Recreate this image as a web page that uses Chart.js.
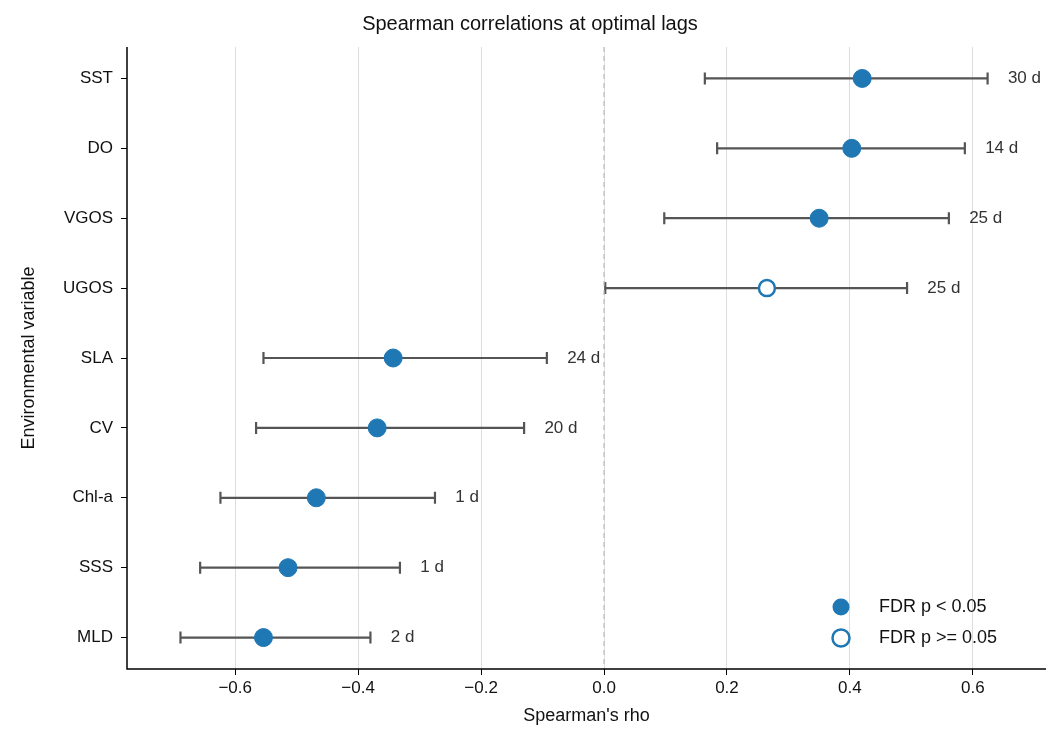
<!DOCTYPE html>
<html>
<head>
<meta charset="utf-8">
<script src="https://cdn.jsdelivr.net/npm/chart.js@4.4.1/dist/chart.umd.min.js"></script>
<style>
  html, body { margin: 0; padding: 0; background: #fff; }
  #wrap { width: 1061px; height: 745px; }
</style>
</head>
<body>
<div id="wrap"><canvas id="chart"></canvas></div>
<script>
// ── Data ────────────────────────────────────────────────────────────
const VARIABLES = ['SST', 'DO', 'VGOS', 'UGOS', 'SLA', 'CV', 'Chl-a', 'SSS', 'MLD'];
const RHO       = [0.420, 0.403, 0.350, 0.265, -0.343, -0.369, -0.468, -0.514, -0.554];
const CI_LOW    = [0.164, 0.184, 0.098, 0.002, -0.554, -0.566, -0.624, -0.657, -0.689];
const CI_HIGH   = [0.624, 0.587, 0.561, 0.493, -0.093, -0.130, -0.275, -0.332, -0.380];
const LAGS      = ['30 d', '14 d', '25 d', '25 d', '24 d', '20 d', '1 d', '1 d', '2 d'];
const SIGNIF    = [true, true, true, false, true, true, true, true, true];
const X_TICKS   = [-0.6, -0.4, -0.2, 0.0, 0.2, 0.4, 0.6];

const BLUE = '#1f77b4';
const FONT = 'Liberation Sans, Arial, sans-serif';

const sigPoints = [], nsPoints = [];
VARIABLES.forEach((v, i) => {
  (SIGNIF[i] ? sigPoints : nsPoints).push({ x: RHO[i], y: i });
});

// ── Plugins ─────────────────────────────────────────────────────────

// error bars and lag labels, drawn before points
const errorBarPlugin = {
  id: 'errorBars',
  beforeDatasetsDraw(chart) {
    const { ctx, scales: { x, y } } = chart;
    ctx.save();
    ctx.strokeStyle = '#555';
    ctx.lineWidth = 2.2;
    VARIABLES.forEach((v, i) => {
      const py = y.getPixelForValue(i);
      const x0 = x.getPixelForValue(CI_LOW[i]);
      const x1 = x.getPixelForValue(CI_HIGH[i]);
      ctx.beginPath();
      ctx.moveTo(x0, py); ctx.lineTo(x1, py);
      ctx.moveTo(x0, py - 6); ctx.lineTo(x0, py + 6);
      ctx.moveTo(x1, py - 6); ctx.lineTo(x1, py + 6);
      ctx.stroke();
      ctx.fillStyle = '#333';
      ctx.font = '17px ' + FONT;
      ctx.textBaseline = 'middle';
      ctx.textAlign = 'left';
      ctx.fillText(LAGS[i], x.getPixelForValue(CI_HIGH[i] + 0.033), py);
    });
    // zero reference line
    const zx = x.getPixelForValue(0);
    ctx.strokeStyle = '#bbb';
    ctx.lineWidth = 1.2;
    ctx.setLineDash([5, 4]);
    ctx.beginPath();
    ctx.moveTo(zx, chart.chartArea.top); ctx.lineTo(zx, chart.chartArea.bottom);
    ctx.stroke();
    ctx.restore();
  },
  afterDraw(chart) {
    const { ctx, chartArea: a } = chart;
    ctx.save();
    // spines
    ctx.strokeStyle = '#000';
    ctx.lineWidth = 1.5;
    ctx.beginPath();
    ctx.moveTo(a.left, a.top); ctx.lineTo(a.left, a.bottom); ctx.lineTo(a.right, a.bottom);
    ctx.stroke();
    // legend
    const items = [['FDR p < 0.05', true], ['FDR p >= 0.05', false]];
    ctx.font = '18px ' + FONT;
    ctx.textBaseline = 'middle';
    items.forEach(([label, filled], k) => {
      const cy = a.bottom - 62 + k * 31;
      const cx = a.right - 205;
      ctx.beginPath();
      ctx.arc(cx, cy, 8.5, 0, Math.PI * 2);
      if (filled) { ctx.fillStyle = BLUE; ctx.fill(); }
      else { ctx.fillStyle = '#fff'; ctx.fill(); ctx.lineWidth = 2.5; ctx.strokeStyle = BLUE; ctx.stroke(); }
      ctx.fillStyle = '#111';
      ctx.fillText(label, cx + 38, cy);
    });
    ctx.restore();
  }
};

// ── Chart ───────────────────────────────────────────────────────────

new Chart(document.getElementById('chart'), {
  type: 'scatter',
  data: {
    datasets: [
      { label: 'FDR p < 0.05', data: sigPoints, backgroundColor: BLUE, borderColor: BLUE,
        pointRadius: 9, pointHoverRadius: 9 },
      { label: 'FDR p >= 0.05', data: nsPoints, backgroundColor: '#fff', borderColor: BLUE,
        borderWidth: 2.5, pointRadius: 8, pointHoverRadius: 8 },
    ],
  },
  plugins: [errorBarPlugin],
  options: {
    responsive: true,
    maintainAspectRatio: false,
    animation: false,
    layout: { padding: { left: 14, right: 15, top: 0, bottom: 14 } },
    scales: {
      x: {
        min: -0.776, max: 0.719,
        afterBuildTicks: axis => { axis.ticks = X_TICKS.map(v => ({ value: v })); },
        ticks: { callback: v => (v < 0 ? '\u2212' : '') + Math.abs(v).toFixed(1),
                 color: '#111', font: { size: 17, family: FONT } },
        grid: { color: '#ddd', drawTicks: true, tickColor: '#000', tickLength: 6 },
        border: { display: false },
        title: { display: true, text: "Spearman's rho", color: '#111', font: { size: 18, family: FONT } },
      },
      y: {
        reverse: true,
        min: -0.45, max: 8.45,
        afterBuildTicks: axis => { axis.ticks = VARIABLES.map((v, i) => ({ value: i })); },
        ticks: { callback: v => VARIABLES[v], color: '#111', font: { size: 17, family: FONT }, padding: 8 },
        grid: { display: true, drawOnChartArea: false, tickColor: '#000', tickLength: 6 },
        border: { display: false },
        afterFit: axis => { axis.width = 113; },
        title: { display: true, text: 'Environmental variable', color: '#111', font: { size: 18, family: FONT } },
      },
    },
    plugins: {
      legend: { display: false },
      tooltip: { enabled: false },
      title: { display: true, text: 'Spearman correlations at optimal lags', color: '#111',
               font: { size: 20, family: FONT, weight: 'normal' }, padding: { top: 12, bottom: 11 } },
    },
  },
});
</script>
</body>
</html>
